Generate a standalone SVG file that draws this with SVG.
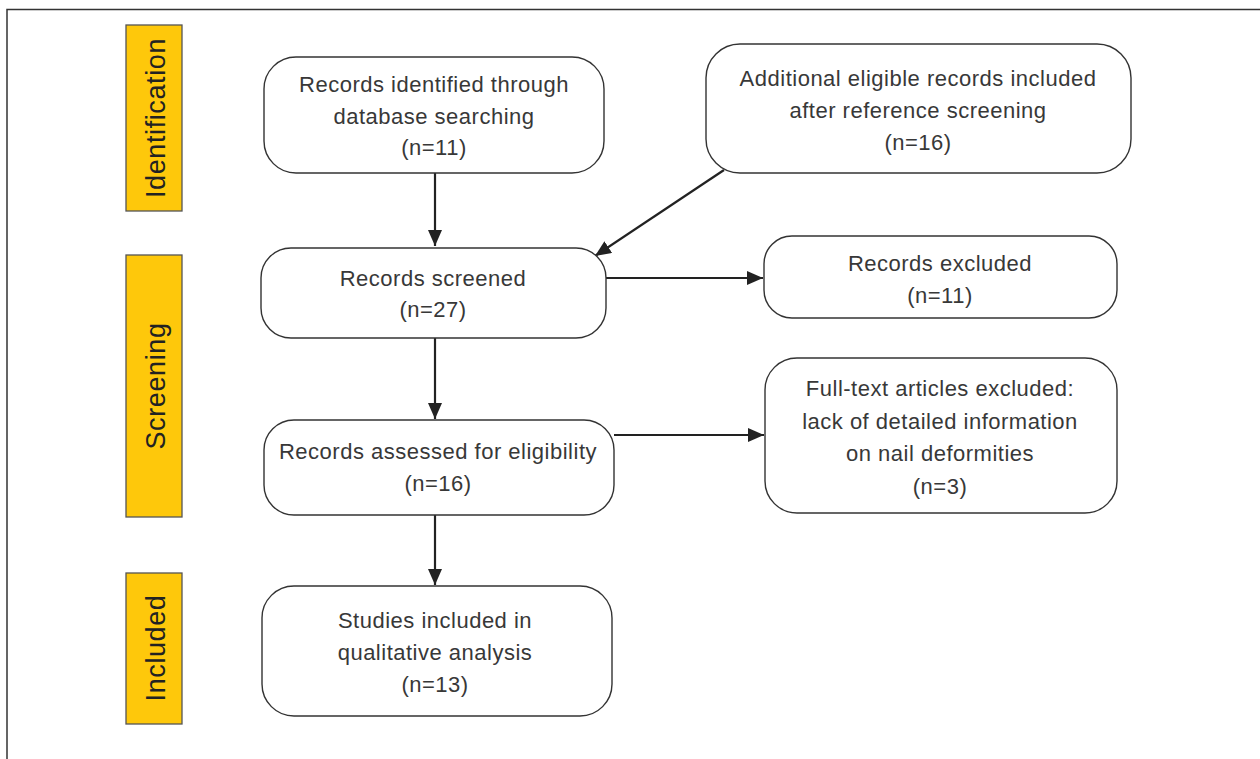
<svg xmlns="http://www.w3.org/2000/svg" width="1260" height="759" viewBox="0 0 1260 759">
<defs>
<marker id="ah" viewBox="0 0 16 14" refX="16" refY="7" markerWidth="16" markerHeight="14" markerUnits="userSpaceOnUse" orient="auto">
<path d="M0,0 L16,7 L0,14 z" fill="#222"/>
</marker>
<style>
.stage{fill:#FEC80B;stroke:#555;stroke-width:1.3}
.stxt{font-family:"Liberation Sans",Arial,sans-serif;font-size:27px;letter-spacing:0.6px;fill:#222;text-anchor:middle}
.box{fill:#fff;stroke:#333;stroke-width:1.4}
.t{font-family:"Liberation Sans",Arial,sans-serif;font-size:22px;letter-spacing:0.5px;fill:#383838;text-anchor:middle}
.c{stroke:#222;stroke-width:2.2;fill:none}
</style>
</defs>
<rect width="1260" height="759" fill="#fff"/>
<rect x="7" y="9.5" width="1300" height="800" fill="none" stroke="#333" stroke-width="1.5"/>

<g id="stage-identification">
<rect class="stage" x="126" y="25" width="56" height="186"/>
<text class="stxt" transform="translate(165,118) rotate(-90)">Identification</text>
</g>
<g id="stage-screening">
<rect class="stage" x="126" y="255" width="56" height="262"/>
<text class="stxt" transform="translate(165,386) rotate(-90)">Screening</text>
</g>
<g id="stage-included">
<rect class="stage" x="126" y="573" width="56" height="151"/>
<text class="stxt" transform="translate(165,648) rotate(-90)">Included</text>
</g>

<g id="connectors">
<line class="c" x1="435" y1="173" x2="435" y2="246" marker-end="url(#ah)"/>
<line class="c" x1="724" y1="170" x2="595" y2="256" marker-end="url(#ah)"/>
<line class="c" x1="606" y1="278" x2="763" y2="278" marker-end="url(#ah)"/>
<line class="c" x1="435" y1="338" x2="435" y2="419" marker-end="url(#ah)"/>
<line class="c" x1="614" y1="435" x2="764" y2="435" marker-end="url(#ah)"/>
<line class="c" x1="435" y1="515" x2="435" y2="585" marker-end="url(#ah)"/>
</g>

<g id="node-identified">
<rect class="box" x="264" y="57" width="340" height="116" rx="32"/>
<text class="t" x="434" y="92">Records identified through</text>
<text class="t" x="434" y="124">database searching</text>
<text class="t" x="434" y="155">(n=11)</text>
</g>
<g id="node-additional">
<rect class="box" x="706" y="44" width="425" height="129" rx="34"/>
<text class="t" x="918" y="86">Additional eligible records included</text>
<text class="t" x="918" y="118">after reference screening</text>
<text class="t" x="918" y="150">(n=16)</text>
</g>
<g id="node-screened">
<rect class="box" x="261" y="248" width="345" height="90" rx="30"/>
<text class="t" x="433" y="286">Records screened</text>
<text class="t" x="433" y="317">(n=27)</text>
</g>
<g id="node-excluded">
<rect class="box" x="764" y="236" width="353" height="82" rx="28"/>
<text class="t" x="940" y="271">Records excluded</text>
<text class="t" x="940" y="303">(n=11)</text>
</g>
<g id="node-assessed">
<rect class="box" x="264" y="420" width="350" height="95" rx="30"/>
<text class="t" x="438" y="459">Records assessed for eligibility</text>
<text class="t" x="438" y="491">(n=16)</text>
</g>
<g id="node-fulltext">
<rect class="box" x="765" y="358" width="352" height="155" rx="32"/>
<text class="t" x="940" y="396">Full-text articles excluded:</text>
<text class="t" x="940" y="429">lack of detailed information</text>
<text class="t" x="940" y="461">on nail deformities</text>
<text class="t" x="940" y="494">(n=3)</text>
</g>
<g id="node-studies">
<rect class="box" x="262" y="586" width="350" height="130" rx="32"/>
<text class="t" x="435" y="628">Studies included in</text>
<text class="t" x="435" y="660">qualitative analysis</text>
<text class="t" x="435" y="692">(n=13)</text>
</g>
</svg>
